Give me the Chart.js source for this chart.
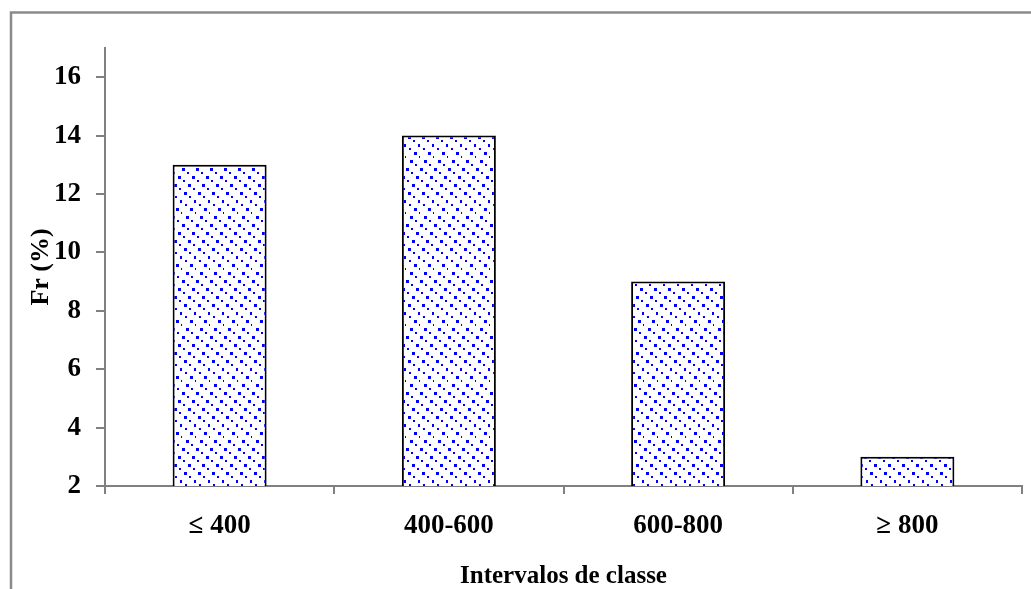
<!DOCTYPE html>
<html lang="pt">
<head>
<meta charset="UTF-8" />
<title>Fr (%) por intervalos de classe</title>
<style>
    body {
        margin: 0;
        padding: 0;
        background: #fff;
        overflow: hidden;
    }
    canvas {
        display: block;
    }
</style>
</head>
<body>
<canvas id="grafico" width="1031" height="589"></canvas>
<script src="https://cdn.jsdelivr.net/npm/chart.js@4.4.1/dist/chart.umd.min.js"></script>
<script>
    // dados
    const classes = ["\u2264 400", "400-600", "600-800", "\u2265 800"];
    const frequencias = [13, 14, 9, 3];
    const yTicks = [2, 4, 6, 8, 10, 12, 14, 16];
    const yMin = 2;
    const yMax = 17;

    const cinza = "#808080";
    const fonte = "'Liberation Serif', 'Times New Roman', serif";

    // textura de pontos azuis em diagonal para o preenchimento das barras
    function pontilhado() {
        const c = document.createElement("canvas");
        c.width = 14;
        c.height = 56;
        const g = c.getContext("2d");
        g.fillStyle = "#ffffff";
        g.fillRect(0, 0, 14, 56);
        g.fillStyle = "#0000ff";
        for (let k = 0; k < 14; k++) {
            const x = (k * 5) % 14;
            const s = k % 2 === 0 ? 3 : 2;
            g.fillRect(x, k * 4, s, s);
        }
        return g.createPattern(c, "repeat");
    }

    // moldura cinza da area do grafico
    const moldura = {
        id: "moldura",
        beforeDraw(chart) {
            const ctx = chart.ctx;
            ctx.save();
            ctx.strokeStyle = "#8a8a8a";
            ctx.lineWidth = 2.5;
            ctx.strokeRect(11, 12.5, 1100, 700);
            ctx.restore();
        }
    };

    const ctx = document.getElementById("grafico").getContext("2d");

    new Chart(ctx, {
        type: "bar",
        data: {
            labels: classes,
            datasets: [{
                data: frequencias,
                backgroundColor: pontilhado(),
                borderColor: "#000",
                borderWidth: 2,
                borderSkipped: "start",
                barPercentage: 0.41,
                categoryPercentage: 1
            }]
        },
        options: {
            responsive: false,
            animation: false,
            devicePixelRatio: 1,
            layout: {
                padding: { left: 0, top: 48, right: 9, bottom: 0 }
            },
            plugins: {
                legend: { display: false },
                tooltip: { enabled: false }
            },
            scales: {
                x: {
                    offset: true,
                    grid: {
                        offset: true,
                        drawOnChartArea: false,
                        color: cinza,
                        lineWidth: 2,
                        tickLength: 8
                    },
                    border: { color: cinza, width: 2 },
                    ticks: {
                        color: "#000",
                        padding: 16,
                        maxRotation: 0,
                        font: { family: fonte, size: 27, weight: "bold" }
                    },
                    title: {
                        display: true,
                        text: "Intervalos de classe",
                        color: "#000",
                        padding: { top: 0, bottom: -3 },
                        font: { family: fonte, size: 25, weight: "bold" }
                    },
                    afterFit(scale) {
                        scale.height = 103;
                    }
                },
                y: {
                    min: yMin,
                    max: yMax,
                    grid: {
                        drawOnChartArea: false,
                        color: cinza,
                        lineWidth: 2,
                        tickLength: 9
                    },
                    border: { color: cinza, width: 2 },
                    ticks: {
                        stepSize: 2,
                        color: "#000",
                        padding: 15,
                        font: { family: fonte, size: 27, weight: "bold" }
                    },
                    afterBuildTicks(scale) {
                        scale.ticks = yTicks.map(v => ({ value: v }));
                    },
                    title: {
                        display: true,
                        text: "Fr (%)",
                        color: "#000",
                        padding: { top: 26, bottom: 0 },
                        font: { family: fonte, size: 26, weight: "bold" }
                    },
                    afterFit(scale) {
                        scale.width = 105;
                    }
                }
            }
        },
        plugins: [moldura]
    });
</script>
</body>
</html>
